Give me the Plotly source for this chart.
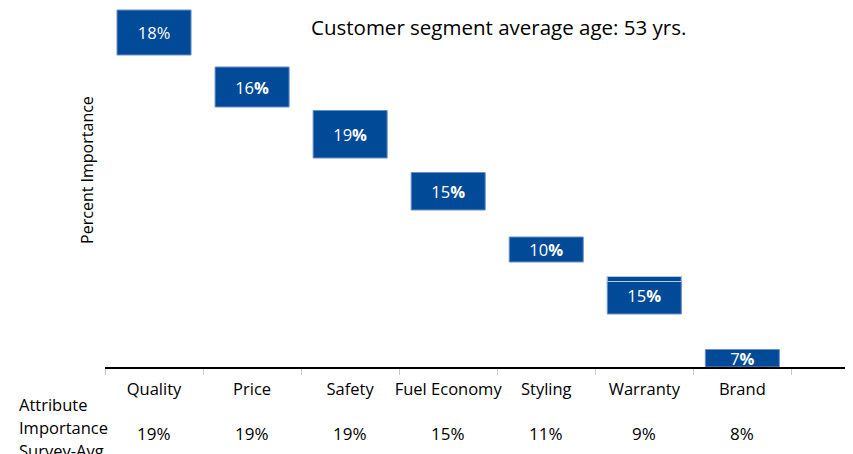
import plotly.graph_objects as go

# attribute importance for the customer segment (floating bars)
attributes = ["Quality", "Price", "Safety", "Fuel Economy", "Styling", "Warranty", "Brand"]
importance = [18, 16, 19, 15, 10, 15, 7]
bar_base = [124.8, 104.0, 83.6, 62.8, 42.0, 21.2, 0.0]
bar_labels = ["18%", "16<b>%</b>", "19<b>%</b>", "15<b>%</b>", "10<b>%</b>", "15<b>%</b>", "7<b>%</b>"]

# thin strip drawn on top of the warranty bar
strip_attr = ["Warranty"]
strip_base = [34.2]
strip_height = [2.0]

survey_avg = ["19%", "19%", "19%", "15%", "11%", "9%", "8%"]
row_title = ["Attribute", "Importance", "Survey-Avg."]

blue = "#004A97"
font_name = "Open Sans"

fig = go.Figure()

fig.add_trace(go.Bar(
    x = attributes,
    y = importance,
    base = bar_base,
    width = 0.755,
    marker = dict(color = blue, line = dict(color = "#6a90c6", width = 1)),
    text = bar_labels,
    textposition = "inside",
    insidetextanchor = "middle",
    textangle = 0,
    constraintext = "none",
    textfont = dict(color = "white", size = 16.5, family = font_name),
    hoverinfo = "skip",
    showlegend = False
))

fig.add_trace(go.Bar(
    x = strip_attr,
    y = strip_height,
    base = strip_base,
    width = 0.755,
    marker = dict(color = blue, line = dict(color = "#b3c8e6", width = 1)),
    hoverinfo = "skip",
    showlegend = False
))

# survey average row under the category labels
for name, avg in zip(attributes, survey_avg):
    fig.add_annotation(
        x = name, xref = "x",
        y = -0.184, yref = "paper", yanchor = "middle",
        text = avg, showarrow = False,
        font = dict(size = 17, color = "black", family = font_name)
    )

for i, line in enumerate(row_title):
    fig.add_annotation(
        x = -0.1164, xref = "paper", xanchor = "left",
        y = -0.1058 - i * 0.064, yref = "paper", yanchor = "middle",
        text = line, align = "left", showarrow = False,
        font = dict(size = 16.5, color = "black", family = font_name)
    )

fig.add_annotation(
    text = "Customer segment average age: 53 yrs.",
    x = 0.52, xref = "paper", xanchor = "center",
    y = 0.947, yref = "paper", yanchor = "middle",
    showarrow = False,
    font = dict(size = 20.5, color = "black", family = font_name)
)

fig.add_annotation(
    text = "Percent Importance",
    textangle = -90,
    x = -0.0238, xref = "paper", xanchor = "center",
    y = 0.549, yref = "paper", yanchor = "middle",
    showarrow = False,
    font = dict(size = 16, color = "black", family = font_name)
)

fig.update_layout(
    width = 853,
    height = 454,
    margin = dict(l = 97, r = 0, t = 0, b = 95),
    plot_bgcolor = "white",
    paper_bgcolor = "white",
    barmode = "overlay",
    uniformtext = dict(minsize = 16.5, mode = "show"),
    font = dict(family = font_name, size = 16, color = "black"),
    xaxis = dict(
        type = "category",
        range = [-0.5, 7.21],
        automargin = False,
        tickangle = 0,
        showline = True, linecolor = "black", linewidth = 1.5,
        ticks = "outside", tickson = "boundaries", ticklen = 6, tickcolor = "#c8c8c8",
        ticklabelstandoff = 6,
        showgrid = False,
        tickfont = dict(size = 16.5, color = "black", family = font_name)
    ),
    yaxis = dict(
        range = [0, 143.6],
        automargin = False,
        showgrid = False, zeroline = False, showticklabels = False, showline = False
    )
)

fig.write_html("out.html")
